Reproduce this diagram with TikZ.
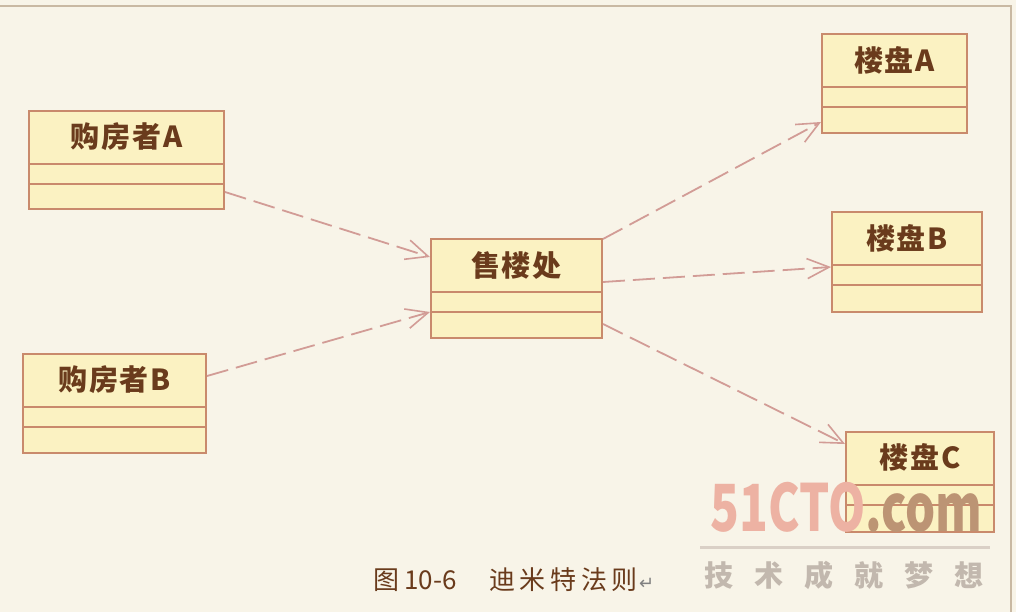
\documentclass[tikz,border=0pt]{standalone}
\usepackage{fontspec}
\newfontfamily\cjk{Noto Sans CJK SC}
\newfontfamily\djv{DejaVu Sans}
\usetikzlibrary{arrows.meta,calc}
\definecolor{bg}{HTML}{F8F4E8}
\definecolor{framec}{HTML}{C9B9A3}
\definecolor{boxf}{HTML}{FBF2C2}
\definecolor{boxd}{HTML}{C98A6C}
\definecolor{txtc}{HTML}{6A3B1C}
\definecolor{arrc}{HTML}{D29C96}
\definecolor{wmred}{HTML}{EDB2A3}
\definecolor{wmtan}{HTML}{BC9474}
\definecolor{wmgray}{HTML}{C2B8AE}
\definecolor{wmline}{HTML}{DAD0C6}
\newcommand\umllines[1]{%
  \draw[divl] ($(#1.north west)+(0,-54)$) -- ($(#1.north east)+(0,-54)$);
  \draw[divl] ($(#1.north west)+(0,-74)$) -- ($(#1.north east)+(0,-74)$);}
\begin{document}
\begin{tikzpicture}[x=1pt,y=1pt,
  cls/.style={draw=boxd, fill=boxf, line width=2pt, inner sep=0pt, rectangle},
  divl/.style={draw=boxd, line width=2pt},
  ttl/.style={font=\cjk\bfseries\fontsize{29}{32}\selectfont\addfontfeatures{LetterSpace=6}, text=txtc, inner sep=0pt},
  dep/.style={draw=arrc, line width=1.8pt, dash pattern=on 22pt off 8pt,
    -{Straight Barb[length=22pt,width=20pt,line width=1.6pt]}},
  capt/.style={font=\cjk\fontsize{26}{28}\selectfont, text=txtc, inner sep=0pt}]
\useasboundingbox (0,0) rectangle (1016,-612);
\fill[bg] (0,0) rectangle (1016,-612);
\draw[framec, line width=1.5pt] (0,-6) -- (1011,-6) -- (1011,-612);

% classes
\node[cls, minimum width=195, minimum height=98] (pa) at (126.5,-160) {};
\node[ttl] (pat) at ($(pa.north)+(0,-27)$) {购房者A};
\umllines{pa}
\node[cls, minimum width=183, minimum height=99] (pb) at (114.5,-403.5) {};
\node[ttl] (pbt) at ($(pb.north)+(0,-27)$) {购房者B};
\umllines{pb}
\node[cls, minimum width=171, minimum height=99] (s) at (516.5,-288.5) {};
\node[ttl] (st) at ($(s.north)+(0,-27)$) {售楼处};
\umllines{s}
\node[cls, minimum width=145, minimum height=99] (la) at (894.5,-83.5) {};
\node[ttl] (lat) at ($(la.north)+(0,-27)$) {楼盘A};
\umllines{la}
\node[cls, minimum width=150, minimum height=100] (lb) at (907,-262) {};
\node[ttl] (lbt) at ($(lb.north)+(0,-27)$) {楼盘B};
\umllines{lb}
\node[cls, minimum width=148, minimum height=100] (lc) at (920,-482) {};
\node[ttl] (lct) at ($(lc.north)+(0,-26)$) {楼盘C};
\umllines{lc}

% dependencies
\coordinate (a1) at ($(pa.north east)+(0,-82)$);
\coordinate (a2) at ($(s.north west)+(0,-19)$);
\coordinate (b1) at ($(pb.north east)+(0,-23)$);
\coordinate (b2) at ($(s.north west)+(0,-74)$);
\coordinate (c1) at ($(s.north east)+(0,-1)$);
\coordinate (c2) at ($(la.north west)+(0,-89)$);
\coordinate (d1) at ($(s.north east)+(0,-44)$);
\coordinate (d2) at ($(lb.north west)+(0,-56)$);
\coordinate (e1) at ($(s.north east)+(0,-86)$);
\coordinate (e2) at ($(lc.north west)+(0,-13)$);
\draw[dep] (a1) -- (a2);
\draw[dep] (b1) -- (b2);
\draw[dep] (c1) -- (c2);
\draw[dep] (d1) -- (d2);
\draw[dep] (e1) -- (e2);

% watermark
\node[anchor=base, inner sep=0pt, xscale=0.73, text height=48pt, text depth=0pt,
  font=\cjk\bfseries\fontsize{65}{65}\selectfont] (wm) at (846.5,-531)
  {{\color{wmred}51CTO}{\color{wmtan}.com}};
\draw[wmline, line width=3pt] (700,-547) -- (990,-547);
\node[inner sep=0pt, text=wmgray, font=\cjk\bfseries\fontsize{29}{30}\selectfont] (wmc) at (844,-575)
  {技\hspace{21pt}术\hspace{21pt}成\hspace{21pt}就\hspace{21pt}梦\hspace{21pt}想};

% caption
\node[capt, anchor=west] (cap1) at (373,-580) {图};
\node[capt, anchor=west] (cap2) at (404,-580) {10-6};
\node[capt, anchor=west] (cap3) at (489,-580) {\addfontfeatures{LetterSpace=18}迪米特法则};
\node[inner sep=0pt, anchor=west, text=gray, font=\djv\fontsize{18}{18}\selectfont] (cap4) at (639,-584) {↵};
\end{tikzpicture}
\end{document}
